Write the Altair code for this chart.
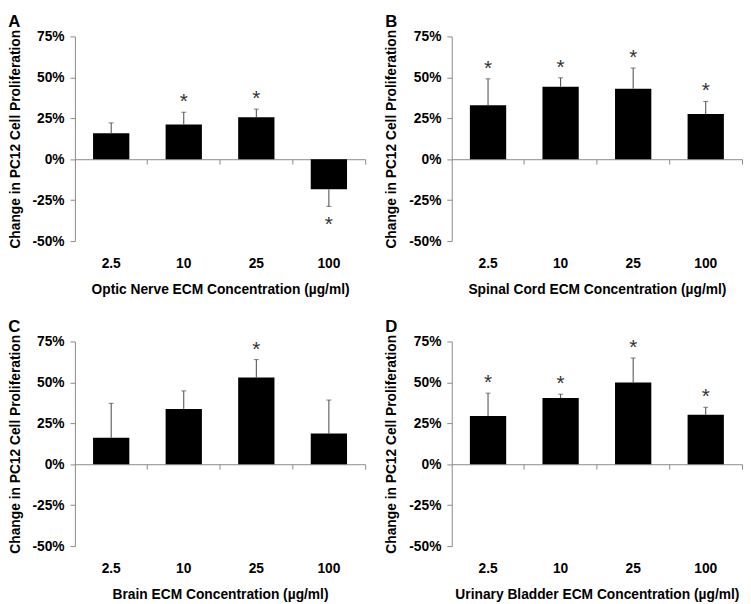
import altair as alt
import pandas as pd

conc = ["2.5", "10", "25", "100"]

a_title = "Optic Nerve ECM Concentration (µg/ml)"
a_mean = [15.8, 21.2, 25.6, -18.4]
a_err = [6.4, 7.5, 5.0, 10.4]
a_sig = [0, 1, 1, 1]

b_title = "Spinal Cord ECM Concentration (µg/ml)"
b_mean = [32.9, 44.3, 43.1, 27.6]
b_err = [16.2, 5.4, 12.6, 7.7]
b_sig = [1, 1, 1, 1]

c_title = "Brain ECM Concentration (µg/ml)"
c_mean = [16.1, 33.8, 52.9, 18.7]
c_err = [21.1, 11.0, 11.0, 20.5]
c_sig = [0, 0, 1, 0]

d_title = "Urinary Bladder ECM Concentration (µg/ml)"
d_mean = [29.4, 40.4, 49.9, 30.2]
d_err = [14.0, 2.4, 15.0, 4.6]
d_sig = [1, 1, 1, 1]

y_ticks = [-50, -25, 0, 25, 50, 75]
y_title = "Change in PC12 Cell Proliferation"

FONT = "Liberation Sans"
W, H = 295, 208
AXC = "#8a8a8a"


def panel(letter, xtitle, means, errs, sig):
    df = pd.DataFrame({"conc": conc, "mean": means, "err": errs, "sig": sig})
    df["end"] = [m + (e if m >= 0 else -e) for m, e in zip(means, errs)]
    base = alt.Chart(df)

    xscale = alt.Scale(paddingInner=0, paddingOuter=0)
    yscale = alt.Scale(domain=[-50, 75], nice=False, zero=False)
    yax = alt.Axis(values=y_ticks, labelExpr="datum.value + '%'", title=y_title,
                   grid=False, tickSize=5, tickColor=AXC, domainColor=AXC,
                   labelPadding=6, titlePadding=10)

    x_zero = alt.X("conc:N", sort=conc, scale=xscale,
                   axis=alt.Axis(orient="bottom", offset=-H * 50 / 125, labels=False,
                                 title=None, tickSize=5, bandPosition=1,
                                 tickColor=AXC, domainColor=AXC))
    x_lab = alt.X("conc:N", sort=conc, scale=xscale,
                  axis=alt.Axis(orient="bottom", domain=False, ticks=False,
                                labelPadding=16, labelAngle=0, title=xtitle,
                                titlePadding=12))
    x_none = alt.X("conc:N", sort=conc, scale=xscale, axis=None)

    bars = base.mark_bar(color="black", width={"band": 0.5}).encode(
        x=x_zero, y=alt.Y("mean:Q", scale=yscale, axis=yax), y2=alt.datum(0))
    rules = base.mark_rule(color="#444", strokeWidth=1).encode(
        x=x_lab, y=alt.Y("mean:Q", scale=yscale, axis=yax), y2="end:Q")
    caps = base.mark_tick(color="#444", size=5, thickness=1, orient="horizontal").encode(
        x=x_none, y=alt.Y("end:Q", scale=yscale, axis=yax))
    star_up = base.transform_filter("datum.sig == 1 && datum.mean >= 0").mark_text(
        text="*", fontSize=21, color="#333", font=FONT, baseline="middle", dy=-10).encode(
        x=x_none, y=alt.Y("end:Q", scale=yscale, axis=yax))
    star_dn = base.transform_filter("datum.sig == 1 && datum.mean < 0").mark_text(
        text="*", fontSize=21, color="#333", font=FONT, baseline="middle", dy=19).encode(
        x=x_none, y=alt.Y("end:Q", scale=yscale, axis=yax))

    return alt.layer(bars, rules, caps, star_up, star_dn).resolve_axis(x="independent").properties(
        width=W, height=H,
        title=alt.TitleParams(text=letter, anchor="start", frame="bounds", fontSize=17,
                              fontWeight="bold", font=FONT, color="black", offset=-2))


top = alt.hconcat(panel("A", a_title, a_mean, a_err, a_sig),
                  panel("B", b_title, b_mean, b_err, b_sig), spacing=19)
bottom = alt.hconcat(panel("C", c_title, c_mean, c_err, c_sig),
                     panel("D", d_title, d_mean, d_err, d_sig), spacing=19)
chart = alt.vconcat(top, bottom, spacing=22).properties(padding=0).configure_view(
    stroke=None).configure_axis(
    labelFont=FONT, titleFont=FONT, labelFontSize=14, titleFontSize=14,
    labelFontWeight="bold", titleFontWeight="bold", labelColor="black", titleColor="black")

chart.save("out.html", embed_options={"renderer": "svg", "actions": False})
